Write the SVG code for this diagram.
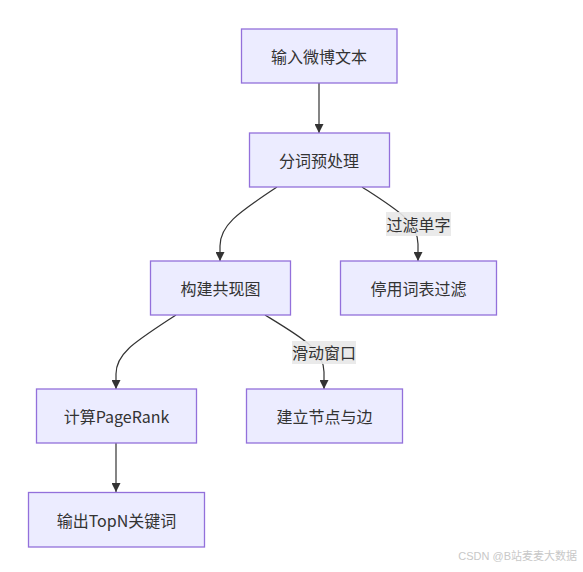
<svg xmlns="http://www.w3.org/2000/svg" width="583" height="572" viewBox="0 0 583 572">
<style>
.node rect{fill:#ECECFF;stroke:#9370DB;stroke-width:1.3}
.node text,.lbl text{font-family:"Noto Sans CJK SC","Liberation Sans",sans-serif;font-size:16px;fill:#333;text-anchor:middle;dominant-baseline:central}
.edge{fill:none;stroke:#333;stroke-width:1.2;marker-end:url(#arr)}
.lbl rect{fill:#e8e8e8;opacity:0.9}
</style>
<defs>
<marker id="arr" viewBox="0 0 10 10" refX="10" refY="5" markerWidth="9" markerHeight="9" markerUnits="userSpaceOnUse" orient="auto">
<path d="M0,0 L10,5 L0,10 z" fill="#333"/>
</marker>
</defs>
<rect width="583" height="572" fill="#fff"/>
<g id="edges">
<path class="edge" d="M319,83 L319,133"/>
<path class="edge" d="M277,187 C236,214 220,226 220,246 L220,261"/>
<path class="edge" d="M362,187 C396,209 418,222 418,244 L418,261"/>
<path class="edge" d="M176,315 C135,342 116,353 116,374 L116,389"/>
<path class="edge" d="M265,315 C301,337 324,350 324,372 L324,389"/>
<path class="edge" d="M116,443 L116,492"/>
</g>
<g id="labels">
<g class="lbl"><rect x="386" y="212" width="65" height="24"/><text x="418.5" y="224">过滤单字</text></g>
<g class="lbl"><rect x="292" y="341" width="64" height="23"/><text x="324" y="352">滑动窗口</text></g>
</g>
<g id="n1" class="node"><rect x="241.5" y="29" width="155.5" height="54"/><text x="319" y="56">输入微博文本</text></g>
<g id="n2" class="node"><rect x="249.5" y="133" width="140" height="54"/><text x="319" y="160">分词预处理</text></g>
<g id="n3" class="node"><rect x="150.5" y="261" width="140" height="54"/><text x="220.5" y="288">构建共现图</text></g>
<g id="n4" class="node"><rect x="340.5" y="261" width="156" height="54"/><text x="418.5" y="288">停用词表过滤</text></g>
<g id="n5" class="node"><rect x="36.5" y="389" width="160" height="54"/><text x="116.5" y="416">计算PageRank</text></g>
<g id="n6" class="node"><rect x="246.5" y="389" width="156" height="54"/><text x="324.5" y="416">建立节点与边</text></g>
<g id="n7" class="node"><rect x="28.5" y="492.5" width="176" height="54.5"/><text x="116.5" y="520">输出TopN关键词</text></g>
<text x="577" y="560" text-anchor="end" font-family="Liberation Sans,Noto Sans CJK SC,sans-serif" font-size="11" fill="#c8c8c8">CSDN @B站麦麦大数据</text>
</svg>
